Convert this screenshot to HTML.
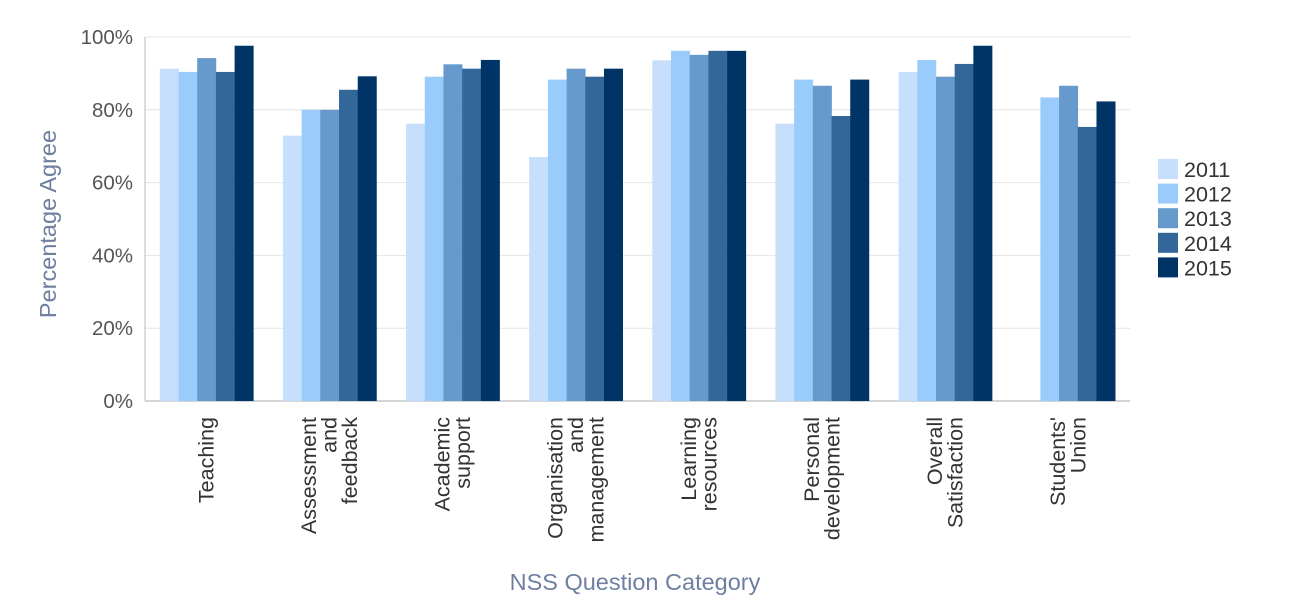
<!DOCTYPE html>
<html><head><meta charset="utf-8"><style>
body{margin:0;background:#fff;}
svg{display:block;font-family:"Liberation Sans",sans-serif;}
</style></head><body>
<svg id="chart" width="1294" height="616"></svg>
<script>
const categories=[["Teaching"],["Assessment","and","feedback"],["Academic","support"],["Organisation","and","management"],["Learning","resources"],["Personal","development"],["Overall","Satisfaction"],["Students'","Union"]];
const years=["2011","2012","2013","2014","2015"];
const s2011=[91.3,72.9,76.2,67,93.6,76.2,90.4,0];
const s2012=[90.4,80,89.1,88.3,96.2,88.3,93.7,83.4];
const s2013=[94.2,80,92.5,91.3,95.1,86.6,89.1,86.6];
const s2014=[90.4,85.5,91.3,89.1,96.2,78.3,92.6,75.3];
const s2015=[97.6,89.2,93.7,91.3,96.2,88.3,97.6,82.3];
const yTicks=["0%","20%","40%","60%","80%","100%"];
const series=[s2011,s2012,s2013,s2014,s2015];
const colors=["#c6dffc","#99ccfb","#6699cc","#336699","#003366"];
const NS="http://www.w3.org/2000/svg";
const svg=document.getElementById('chart');
const L=145,R=1130,T=37,B=401;
const y=v=>B-(v/100)*(B-T);
const band=(R-L)/categories.length;
const bw=18.7;
function mk(t,a,p){const e=document.createElementNS(NS,t);for(const k in a)e.setAttribute(k,a[k]);(p||svg).appendChild(e);return e;}
yTicks.forEach((t,i)=>{const v=i*20;
 const g=mk('line',{x1:L,x2:R,y1:y(v),y2:y(v),stroke:i==0?'#aaa':'#e4e4e4','stroke-width':1});
 
 const tx=mk('text',{x:133,y:y(v)+7,'text-anchor':'end','font-size':20.5,fill:'#555'});tx.textContent=t;
 });
const ax=mk('line',{x1:L,x2:L,y1:T,y2:B,stroke:'#bbb'});

categories.forEach((c,ci)=>{
 const x0=L+ci*band+(band-bw*5)/2;
 series.forEach((s,si)=>{const v=s[ci];if(!v)return;
  const r=mk('rect',{x:x0+si*bw,y:y(v),width:bw+0.3,height:B-y(v),fill:colors[si]});
  });
 const cx=L+(ci+0.5)*band;
 const n=c.length;
 c.forEach((ln,li)=>{const lx=cx+(li-(n-1)/2)*20.5+7;
  const t=mk('text',{x:0,y:0,transform:`translate(${lx},417) rotate(-90)`,'text-anchor':'end','font-size':21.5,fill:'#333'});
  t.textContent=ln;});
});
years.forEach((yr,i)=>{const ly=159+i*24.6;
 const r=mk('rect',{x:1158,y:ly,width:20,height:20,fill:colors[i]});
 
 const t=mk('text',{x:1184,y:ly+18,'font-size':21.5,fill:'#333'});t.textContent=yr;
 });
const yt=mk('text',{x:0,y:0,transform:'translate(56,224) rotate(-90)','text-anchor':'middle','font-size':23.5,fill:'#6f7fa0'});
yt.textContent='Percentage Agree';
const xt=mk('text',{x:635,y:590,'text-anchor':'middle','font-size':23.5,fill:'#6f7fa0'});
xt.textContent='NSS Question Category';
</script>
</body></html>
